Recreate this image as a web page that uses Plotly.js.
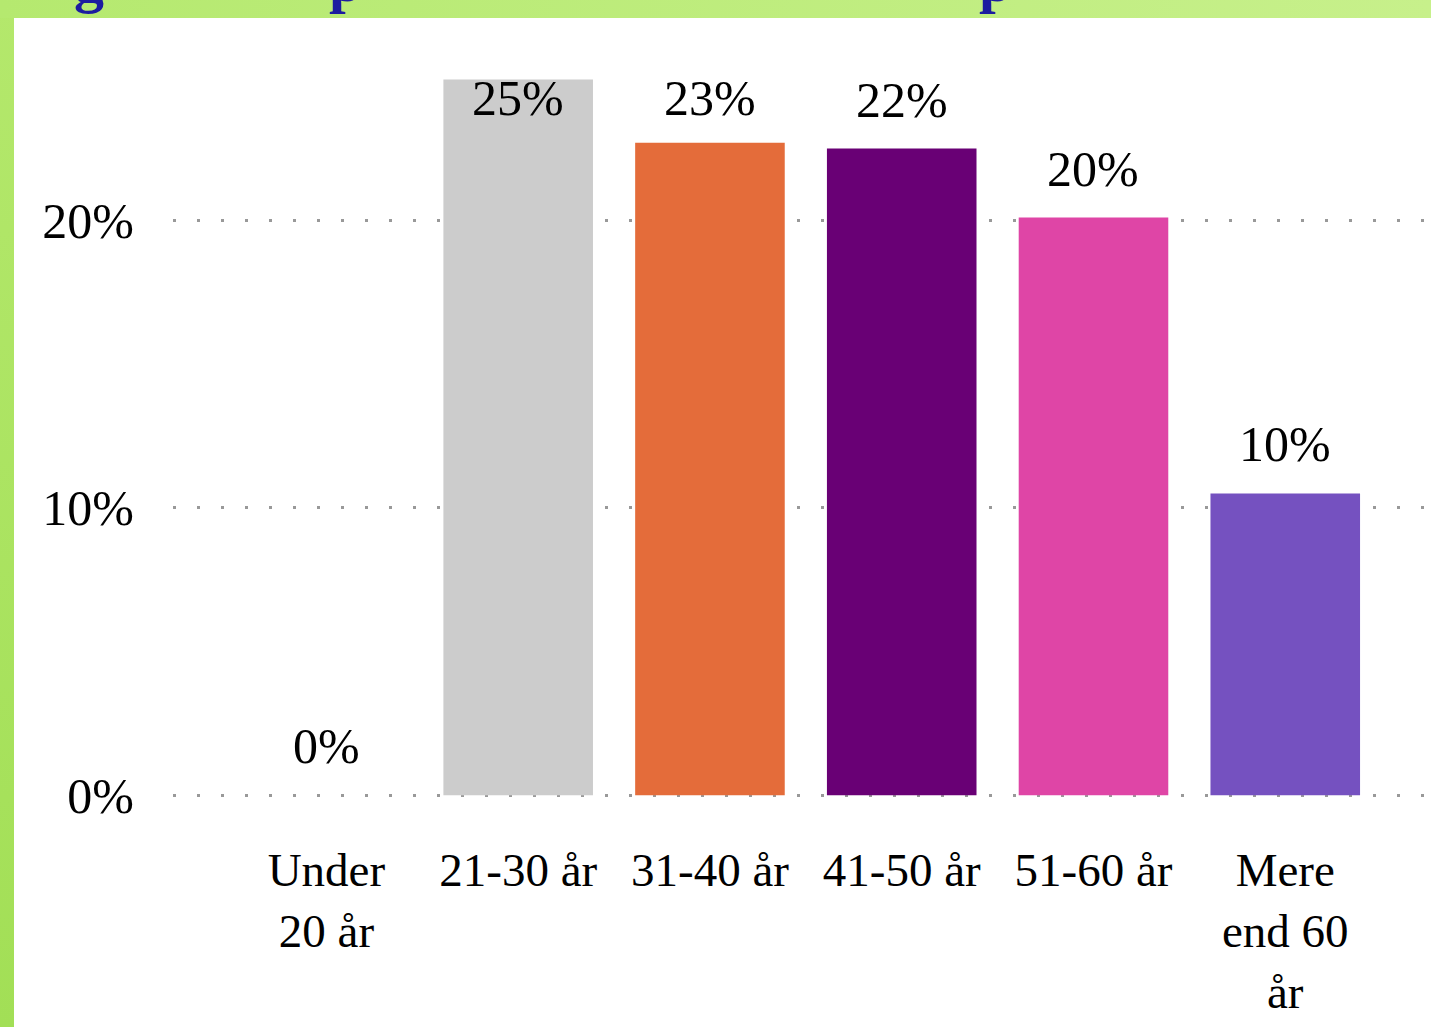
<!DOCTYPE html>
<html><head><meta charset="utf-8">
<script src="https://cdn.plot.ly/plotly-3.0.1.min.js"></script>
<style>
html,body{margin:0;padding:0;width:1431px;height:1027px;overflow:hidden;}
body{background:linear-gradient(to bottom,#b4e86c,#a2df56);}
#topband{position:absolute;left:0;top:0;width:1431px;height:18px;background:linear-gradient(to right,#b5e96f,#c7f08b);}
#panel{position:absolute;left:14px;top:18px;right:0;bottom:0;background:#ffffff;}
#chart{position:absolute;left:0;top:0;width:1431px;height:1027px;}
</style></head>
<body><div id="topband"></div><div id="panel"></div><div id="chart"></div>
<script>
const categories = ["Under<br>20 år", "21-30 år", "31-40 år", "41-50 år", "51-60 år", "Mere<br>end 60<br>år"];
const values = [0, 24.9, 22.7, 22.5, 20.1, 10.5];
const valueLabels = ["0%", "25%", "23%", "22%", "20%", "10%"];
const barColors = ["#cccccc", "#cccccc", "#e46c3a", "#690075", "#df45a6", "#7551c0"];
const yTickVals = [0, 10, 20];
const yTickText = ["0%", "10%", "20%"];
const titleGlyphs = ["g", "p", "p"];

const W = 1431, H = 1027, L = 173, R = 0, T = 48, B = 229;
const labelCap = 22.55;
const FONT = "Liberation Serif, Times New Roman, serif";
const px2paperX = p => (p - L) / (W - L - R);
const px2paperY = p => (H - B - p) / (H - T - B);

const annotations = categories.map((c, i) => ({
  x: c, y: Math.min(values[i], labelCap), xref: 'x', yref: 'y',
  text: valueLabels[i], showarrow: false, yanchor: 'bottom', yshift: 19,
  font: {family: FONT, size: 50, color: '#000000'}
}));
const glyphX = [89, 327, 977];
const glyphAnchor = ['center', 'left', 'left'];
titleGlyphs.forEach((g, i) => annotations.push({
  xref: 'paper', yref: 'paper', x: px2paperX(glyphX[i]), y: px2paperY(16),
  xanchor: glyphAnchor[i], yanchor: 'bottom', text: '<b>' + g + '</b>', showarrow: false,
  font: {family: FONT, size: 60, color: '#1c1ca0'}
}));

const trace = {
  type: 'bar', x: categories, y: values,
  marker: {color: barColors, line: {width: 0}},
  hoverinfo: 'none'
};

const layout = {
  width: W, height: H, autosize: false,
  margin: {l: L, r: R, t: T, b: B, pad: 0},
  paper_bgcolor: 'rgba(0,0,0,0)', plot_bgcolor: 'rgba(0,0,0,0)',
  showlegend: false, bargap: 0.22,
  xaxis: {
    type: 'category', range: [-0.8, 5.76], showgrid: false, zeroline: false, showline: false,
    ticks: '', ticklabelstandoff: 40,
    tickfont: {family: FONT, size: 47, color: '#000000'}
  },
  yaxis: {
    range: [-0.1, 26], tickvals: yTickVals, ticktext: yTickText,
    showgrid: true, gridcolor: '#999999', gridwidth: 3, griddash: '3px,21px',
    zeroline: false, showline: false, ticks: '', ticklabelstandoff: 38,
    tickfont: {family: FONT, size: 50, color: '#000000'}
  },
  annotations: annotations
};

Plotly.newPlot('chart', [trace], layout, {displayModeBar: false, staticPlot: true});
</script>
</body></html>
